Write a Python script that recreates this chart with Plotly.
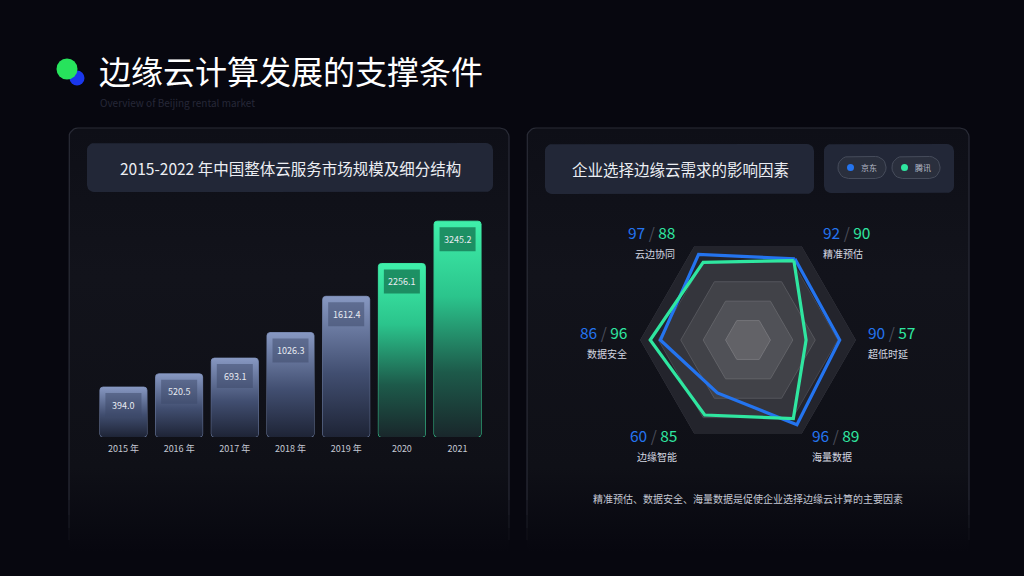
import numpy as np
import plotly.graph_objects as go

# ---------------- data ----------------
years = ["2015 年", "2016 年", "2017 年", "2018 年", "2019 年", "2020", "2021"]
market_size = [394.0, 520.5, 693.1, 1026.3, 1612.4, 2256.1, 3245.2]
highlight = [False, False, False, False, False, True, True]

radar_factors = ["精准预估", "超低时延", "海量数据", "边缘智能", "数据安全", "云边协同"]
jd_scores = [92, 90, 96, 60, 86, 97]
tencent_scores = [90, 57, 89, 85, 96, 88]
series_names = ["京东", "腾讯"]

title_text = "边缘云计算发展的支撑条件"
subtitle_text = "Overview of Beijing rental market"
left_header = "2015-2022 年中国整体云服务市场规模及细分结构"
right_header = "企业选择边缘云需求的影响因素"
caption = "精准预估、数据安全、海量数据是促使企业选择边缘云计算的主要因素"

# ---------------- style ----------------
W, H = 1024, 576
BG = "#07070f"
BOX = "#222737"
BLUE = "#2474ef"
GREEN = "#2fe6a0"
FONT = "Noto Sans CJK SC, Noto Sans, sans-serif"


def rounded_poly(x0, x1, yb, yt, rx, ry, n=7):
    corners = [(x1 - rx, yt - ry, 0, 90), (x0 + rx, yt - ry, 90, 180),
               (x0 + rx, yb + ry, 180, 270), (x1 - rx, yb + ry, 270, 360)]
    xs, ys = [], []
    for cx, cy, a0, a1 in corners:
        for a in np.radians(np.linspace(a0, a1, n)):
            xs.append(cx + rx * np.cos(a))
            ys.append(cy + ry * np.sin(a))
    xs.append(xs[0]); ys.append(ys[0])
    return xs, ys


fig = go.Figure()


def add_poly(xs, ys, **kw):
    fig.add_trace(go.Scatter(x=xs, y=ys, xaxis="x", yaxis="y", hoverinfo="skip",
                             showlegend=False, **kw))


# ---------- background decoration (pixel coordinates on x/y) ----------
for (px0, px1) in [(69, 509), (527, 969)]:
    xs, ys = rounded_poly(px0, px1, 556, 128, 9, -9)
    add_poly(xs, ys, mode="lines", line=dict(width=0, color="rgba(0,0,0,0)"), fill="toself",
             fillgradient=dict(type="vertical", start=128, stop=552,
                               colorscale=[[0, "#0e0f17"], [0.35, "#12131b"],
                                           [0.8, "#0f1017"], [1, BG]]))
    arc_l = [(px0 + 9 + 9 * np.cos(a), 137 - 9 * np.sin(a)) for a in np.radians(np.linspace(180, 90, 7))]
    arc_r = [(px1 - 9 + 9 * np.cos(a), 137 - 9 * np.sin(a)) for a in np.radians(np.linspace(90, 0, 7))]
    pts = [(px0, 500)] + arc_l + arc_r + [(px1, 500)]
    add_poly([p[0] for p in pts], [p[1] for p in pts], mode="lines",
             line=dict(color="#2a2c37", width=1.2))
    for (ya, yb_, c) in [(500, 515, "#22232d"), (515, 528, "#1a1b24"), (528, 540, "#121219")]:
        for xx in (px0, px1):
            add_poly([xx, xx], [ya, yb_], mode="lines", line=dict(color=c, width=1.2))

# header boxes
for (bx0, bx1, by0, by1) in [(87, 493, 143, 192), (545, 814, 144, 194), (824, 954, 144, 193)]:
    xs, ys = rounded_poly(bx0, bx1, by1, by0, 7, -7)
    add_poly(xs, ys, mode="lines", line=dict(width=0, color="rgba(0,0,0,0)"),
             fill="toself", fillcolor=BOX)

# legend pills
legend_colors = [BLUE, GREEN]
for k, (name, col) in enumerate(zip(series_names, legend_colors)):
    lx0 = 838 + k * 54
    xs, ys = rounded_poly(lx0, lx0 + 48, 178.5, 156.5, 10.5, -10.5)
    add_poly(xs, ys, mode="lines", line=dict(width=1, color="#464c5b"),
             fill="toself", fillcolor="#2a2f3d")
    add_poly([lx0 + 12.5], [167.5], mode="markers",
             marker=dict(size=7, color=col, line=dict(width=0)))
    fig.add_annotation(x=lx0 + 21, y=167.5, xref="x", yref="y", text=name,
                       showarrow=False, xanchor="left", yanchor="middle",
                       font=dict(size=8, color="#b6bcc9"))

# logo circles
add_poly([77], [78], mode="markers", marker=dict(size=15, color="#1a37ec", line=dict(width=0)))
add_poly([67], [69], mode="markers", marker=dict(size=21, color="#27e35c", line=dict(width=0)))

# ---------- bar chart (x2 / y2) ----------
n = len(years)
idx = list(range(n))
s_vals = [float(np.sqrt(v)) for v in market_size]   # visual (square-root) scale
y_base = 8.68
y_top = 59.24
bar_w = 0.844
rx = 3 / 55.7
ry = 3 / 4.47

blue_cs = [[0, "#1e2436"], [0.45, "#414e70"], [1, "#8798c2"]]
green_cs = [[0, "#19272b"], [0.3, "#1d5a4a"], [0.65, "#2bc48c"], [1, "#3ff0aa"]]

for i, s in enumerate(s_vals):
    xs, ys = rounded_poly(i - bar_w / 2, i + bar_w / 2, y_base, s, rx, ry)
    fig.add_trace(go.Scatter(x=xs, y=ys, xaxis="x2", yaxis="y2", mode="lines",
                             line=dict(width=0, color="rgba(0,0,0,0)"), fill="toself",
                             fillgradient=dict(type="vertical", start=y_base, stop=s,
                                               colorscale=green_cs if highlight[i] else blue_cs),
                             hoverinfo="skip", showlegend=False))

fig.add_trace(go.Bar(
    x=idx, y=[s - y_base for s in s_vals], base=y_base, width=bar_w,
    xaxis="x2", yaxis="y2",
    marker=dict(color="rgba(0,0,0,0)",
                line=dict(color=["#3bdc9c" if h else "#7283aa" for h in highlight], width=1),
                cornerradius=3),
    customdata=market_size, hovertemplate="%{customdata}<extra></extra>", showlegend=False))

for i, (s, v) in enumerate(zip(s_vals, market_size)):
    fig.add_shape(type="rect", xref="x2", yref="y2", xsizemode="pixel", xanchor=i,
                  x0=-18, x1=18, ysizemode="pixel", yanchor=s, y0=-30, y1=-6,
                  fillcolor="rgba(24,128,88,0.85)" if highlight[i] else "rgba(60,72,104,0.5)",
                  line=dict(width=0), layer="above")
    fig.add_annotation(x=i, y=s, xref="x2", yref="y2", yshift=-18, text=f"{v:.1f}",
                       showarrow=False, yanchor="middle",
                       font=dict(size=9, color="#e8ebf2"))

# ---------- radar (polar) ----------
theta_closed = radar_factors + [radar_factors[0]]
rings = [(106, "#23242c", "#34353e"), (88, "#34353c", "#45464e"), (66, "#414248", "#55565c"),
         (44, "#505157", "#626368"), (22, "#626267", "#747479")]
for r, fc, lc in rings:
    fig.add_trace(go.Scatterpolar(r=[r] * len(theta_closed), theta=theta_closed,
                                  mode="lines", fill="toself", fillcolor=fc,
                                  line=dict(color=lc, width=1), hoverinfo="skip",
                                  showlegend=False))

for name, vals, col in [(series_names[0], jd_scores, BLUE), (series_names[1], tencent_scores, GREEN)]:
    fig.add_trace(go.Scatterpolar(r=vals + [vals[0]], theta=theta_closed, mode="lines",
                                  line=dict(color=col, width=3.2), name=name, showlegend=False))

# radar labels (pixel coordinates)
label_layout = [(822, 235, "left"), (867, 335, "left"), (811, 438, "left"),
                (678, 438, "right"), (628, 335, "right"), (676, 235, "right")]
for f, a, b, (lx, ly, al) in zip(radar_factors, jd_scores, tencent_scores, label_layout):
    fig.add_annotation(x=lx, y=ly + 9, xref="x", yref="y", showarrow=False, xanchor=al,
                       yanchor="bottom", borderpad=0,
                       text=(f"<span style='color:{BLUE}'>{a}</span>"
                             f"<span style='color:#4a4d59'> / </span>"
                             f"<span style='color:{GREEN}'>{b}</span>"),
                       font=dict(size=15.5))
    fig.add_annotation(x=lx, y=ly + 10, xref="x", yref="y", showarrow=False, xanchor=al,
                       yanchor="top", borderpad=0, text=f,
                       font=dict(size=10, color="#d3d7e0"))

# ---------- texts ----------
fig.add_annotation(x=97, y=70, xref="x", yref="y", text=title_text, showarrow=False,
                   xanchor="left", yanchor="middle", font=dict(size=32, color="#ffffff"))
fig.add_annotation(x=98, y=102, xref="x", yref="y", text=subtitle_text, showarrow=False,
                   xanchor="left", yanchor="middle", font=dict(size=10, color="#262838"))
fig.add_annotation(x=290, y=167.5, xref="x", yref="y", text=left_header, showarrow=False,
                   xanchor="center", yanchor="middle", font=dict(size=15.5, color="#eceef3"))
fig.add_annotation(x=680, y=169, xref="x", yref="y", text=right_header, showarrow=False,
                   xanchor="center", yanchor="middle", font=dict(size=15.5, color="#eceef3"))
fig.add_annotation(x=748, y=498, xref="x", yref="y", text=caption, showarrow=False,
                   xanchor="center", yanchor="middle", font=dict(size=10, color="#c3c7d2"))

fig.update_layout(
    width=W, height=H, margin=dict(l=0, r=0, t=0, b=0),
    paper_bgcolor=BG, plot_bgcolor="rgba(0,0,0,0)",
    font=dict(family=FONT, color="#ffffff"),
    showlegend=False,
    xaxis=dict(domain=[0, 1], range=[0, W], visible=False, fixedrange=True),
    yaxis=dict(domain=[0, 1], range=[H, 0], visible=False, fixedrange=True),
    xaxis2=dict(domain=[95.6 / W, 485.4 / W], range=[-0.5, n - 0.5], anchor="y2",
                tickvals=idx, ticktext=years, showgrid=False, zeroline=False,
                showline=False, ticks="", ticklabelstandoff=5,
                tickfont=dict(size=9, color="#c5c9d4"), fixedrange=True),
    yaxis2=dict(domain=[(H - 437) / H, (H - 211) / H], range=[y_base, y_top], anchor="x2",
                visible=False, fixedrange=True),
    polar=dict(domain=dict(x=[640 / W, 856 / W], y=[(H - 448) / H, (H - 232) / H]),
               bgcolor="rgba(0,0,0,0)", gridshape="linear",
               radialaxis=dict(range=[0, 106], visible=False),
               angularaxis=dict(direction="clockwise", rotation=60, showgrid=False,
                                showline=False, showticklabels=False, ticks="")),
)

fig.write_html("out.html")
